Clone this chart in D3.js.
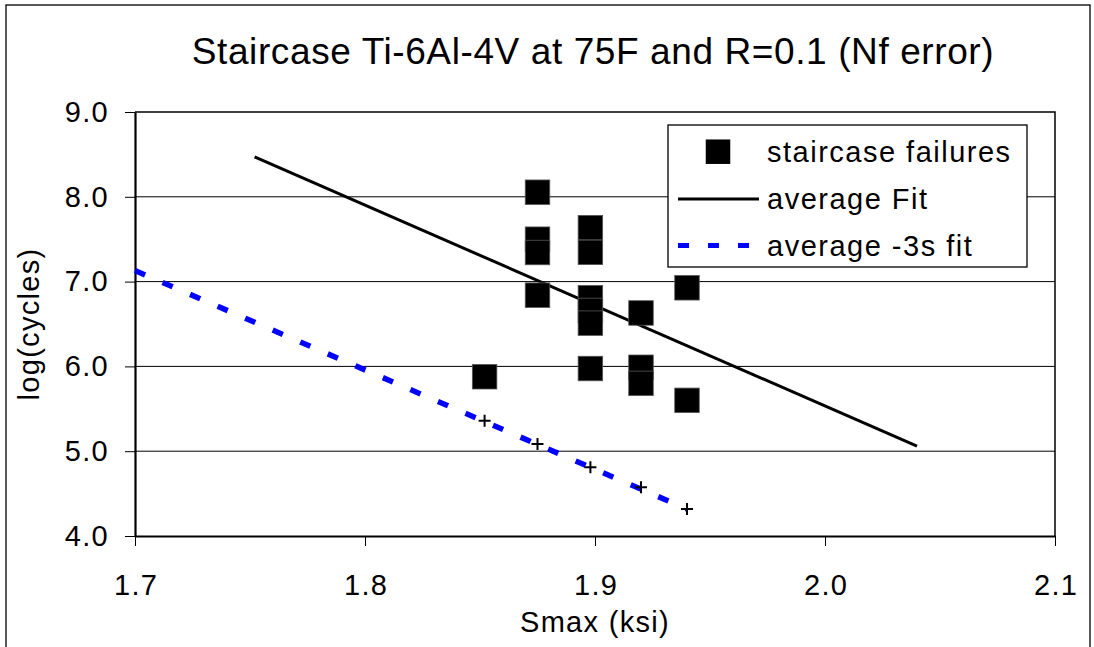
<!DOCTYPE html>
<html>
<head>
<meta charset="utf-8">
<script src="https://cdn.jsdelivr.net/npm/d3@7"></script>
<style>
  body { margin: 0; background: #fff; }
  svg text { font-family: "Liberation Sans", Arial, sans-serif; fill: #000; }
</style>
</head>
<body>
<svg id="chart" width="1094" height="647"></svg>
<script>
// staircase failures, log(cycles) per stress level
let failX = [1.852, 1.875, 1.875, 1.875, 1.875, 1.898, 1.898, 1.898, 1.898, 1.898, 1.898, 1.920, 1.920, 1.920, 1.940, 1.940];
let failY = [5.878, 8.054, 7.500, 7.343, 6.840, 7.636, 7.345, 6.810, 6.660, 6.510, 5.975, 6.630, 5.990, 5.800, 6.927, 5.600];

// fitted lines (end points)
let avgFitX = [1.752, 2.040];
let avgFitY = [8.47, 5.06];
let lowFitX = [1.700, 1.940];
let lowFitY = [7.13, 4.318];

// -3s points at the staircase levels
let plusX = [1.852, 1.875, 1.898, 1.920, 1.940];
let plusY = [5.36, 5.085, 4.81, 4.574, 4.318];

let xTicks = [1.7, 1.8, 1.9, 2.0, 2.1];
let yTicks = [4, 5, 6, 7, 8, 9];

let title = "Staircase Ti-6Al-4V at 75F and R=0.1 (Nf error)";
let legendLabels = ["staircase failures", "average Fit", "average -3s fit"];

let svg = d3.select("#chart");

// outer chart border
svg.append("rect")
  .attr("x", 6).attr("y", 5)
  .attr("width", 1084).attr("height", 660)
  .attr("fill", "none").attr("stroke", "#000").attr("stroke-width", 1.3);

let plotL = 135, plotR = 1055, plotT = 112, plotB = 536;

let xScale = d3.scaleLinear().domain([1.7, 2.1]).range([plotL, plotR]);
let yScale = d3.scaleLinear().domain([4, 9]).range([plotB, plotT]);

// gridlines
svg.append("g").selectAll("line")
  .data(yTicks.slice(1, -1))
  .enter().append("line")
  .attr("x1", plotL).attr("x2", plotR)
  .attr("y1", d => yScale(d)).attr("y2", d => yScale(d))
  .attr("stroke", "#000").attr("stroke-width", 1);

// plot border (top + right)
svg.append("path")
  .attr("d", "M" + plotL + "," + plotT + "H" + plotR + "V" + plotB)
  .attr("fill", "none").attr("stroke", "#000").attr("stroke-width", 1.5);

// axes
let xAxis = d3.axisBottom(xScale).tickValues(xTicks).tickFormat(d3.format(".1f"))
  .tickSize(10).tickSizeOuter(0).tickPadding(28);
let gx = svg.append("g").attr("transform", "translate(0," + plotB + ")").call(xAxis);

let yAxis = d3.axisLeft(yScale).tickValues(yTicks).tickFormat(d3.format(".1f"))
  .tickSize(10).tickSizeOuter(0).tickPadding(16);
let gy = svg.append("g").attr("transform", "translate(" + plotL + ",0)").call(yAxis);

[gx, gy].forEach(g => {
  g.attr("font-family", null).attr("font-size", null);
  g.select(".domain").attr("stroke", "#000").attr("stroke-width", 2.2);
  g.selectAll(".tick line").attr("stroke", "#000").attr("stroke-width", 1);
  g.selectAll(".tick text")
    .style("font-size", "29px").style("letter-spacing", "1.3px")
    .attr("fill", "#000");
});
gx.selectAll(".tick text").attr("dx", "0.65px");

// title and axis labels
svg.append("text")
  .attr("x", 593).attr("y", 64)
  .attr("text-anchor", "middle")
  .style("font-size", "37px").style("letter-spacing", "0.6px")
  .text(title);

svg.append("text")
  .attr("x", 595).attr("y", 632)
  .attr("text-anchor", "middle")
  .style("font-size", "29px").style("letter-spacing", "1.3px")
  .text("Smax (ksi)");

svg.append("text")
  .attr("transform", "translate(39,324) rotate(-90)")
  .attr("text-anchor", "middle")
  .style("font-size", "29px").style("letter-spacing", "1.3px")
  .text("log(cycles)");

// average fit
let line = d3.line().x(d => xScale(d[0])).y(d => yScale(d[1]));

svg.append("path")
  .datum(d3.zip(avgFitX, avgFitY))
  .attr("d", line)
  .attr("fill", "none").attr("stroke", "#000").attr("stroke-width", 3);

// -3s fit
svg.append("path")
  .datum(d3.zip(lowFitX, lowFitY))
  .attr("d", line)
  .attr("fill", "none").attr("stroke", "#0000ff").attr("stroke-width", 5.5)
  .attr("stroke-dasharray", "11,19");

// failures (squares)
let sq = 24.5;
svg.append("g").selectAll("rect")
  .data(d3.zip(failX, failY))
  .enter().append("rect")
  .attr("x", d => xScale(d[0]) - sq / 2)
  .attr("y", d => yScale(d[1]) - sq / 2)
  .attr("width", sq).attr("height", sq)
  .attr("fill", "#000").attr("stroke", "#555").attr("stroke-width", 0.8);

// plus markers
svg.append("g").selectAll("path")
  .data(d3.zip(plusX, plusY))
  .enter().append("path")
  .attr("d", "M-6,0H6M0,-6V6")
  .attr("transform", d => "translate(" + xScale(d[0]) + "," + yScale(d[1]) + ")")
  .attr("stroke", "#000").attr("stroke-width", 2).attr("fill", "none");

// legend
let lg = svg.append("g");
lg.append("rect")
  .attr("x", 668).attr("y", 125)
  .attr("width", 359).attr("height", 142)
  .attr("fill", "#fff").attr("stroke", "#000").attr("stroke-width", 1.3);

let rowY = [151.7, 199, 245.5];
lg.append("rect")
  .attr("x", 718 - sq / 2).attr("y", rowY[0] - sq / 2)
  .attr("width", sq).attr("height", sq).attr("fill", "#000");
lg.append("line")
  .attr("x1", 678).attr("x2", 759).attr("y1", rowY[1]).attr("y2", rowY[1])
  .attr("stroke", "#000").attr("stroke-width", 3);
lg.append("line")
  .attr("x1", 678).attr("x2", 759).attr("y1", rowY[2]).attr("y2", rowY[2])
  .attr("stroke", "#0000ff").attr("stroke-width", 5).attr("stroke-dasharray", "11,19");

lg.selectAll("text.lbl")
  .data(legendLabels)
  .enter().append("text")
  .attr("class", "lbl")
  .attr("x", 767)
  .attr("y", (d, i) => rowY[i] + 10)
  .style("font-size", "29px").style("letter-spacing", "1.5px")
  .text(d => d);
</script>
</body>
</html>
